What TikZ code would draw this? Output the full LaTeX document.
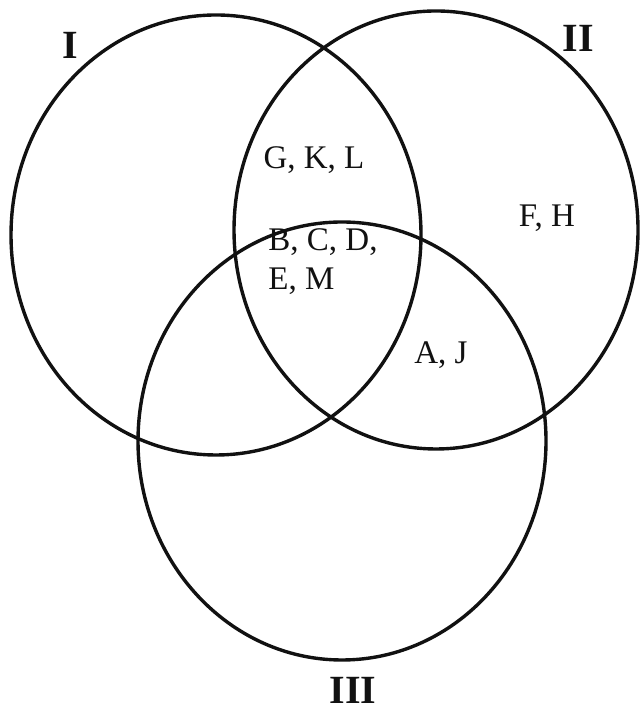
\documentclass[tikz,border=0pt]{standalone}
\usepackage{fontspec}
\setmainfont{Liberation Serif}
\usetikzlibrary{positioning}
\definecolor{vnink}{HTML}{111111}
\tikzset{
  vn ring/.style={draw=vnink, line width=1.7pt},
  vn set/.style={font=\fontsize{20}{24}\selectfont\bfseries, text=vnink, inner sep=0pt},
  vn item/.style={font=\fontsize{16.5}{19.5}\selectfont, text=vnink, inner sep=0pt, align=left}
}

\begin{document}
\begin{tikzpicture}[x=0.5pt, y=0.5pt]
  \useasboundingbox (0,0) rectangle (640,710);
  \foreach \cx/\cy/\rx/\ry in {216/475/205/220,436/480/202/219,342/269/204/219} {
    \draw[vn ring] (\cx,\cy) ellipse [x radius=\rx, y radius=\ry];
  }
  \node[vn set] (setI) at (70,665) {I};
  \node[vn set] (setII) at (578,672) {II};
  \node[vn set] (setIII) at (353,20) {III};
  \node[vn item] (onetwo) at (314,550) {G, K, L};
  \node[vn item] (twoonly) at (547,492) {F, H};
  \node[vn item, anchor=west] (allthree) at (268,448) {B, C, D,\\E, M};
  \node[vn item] (twothree) at (441,355) {A, J};
\end{tikzpicture}
\end{document}
